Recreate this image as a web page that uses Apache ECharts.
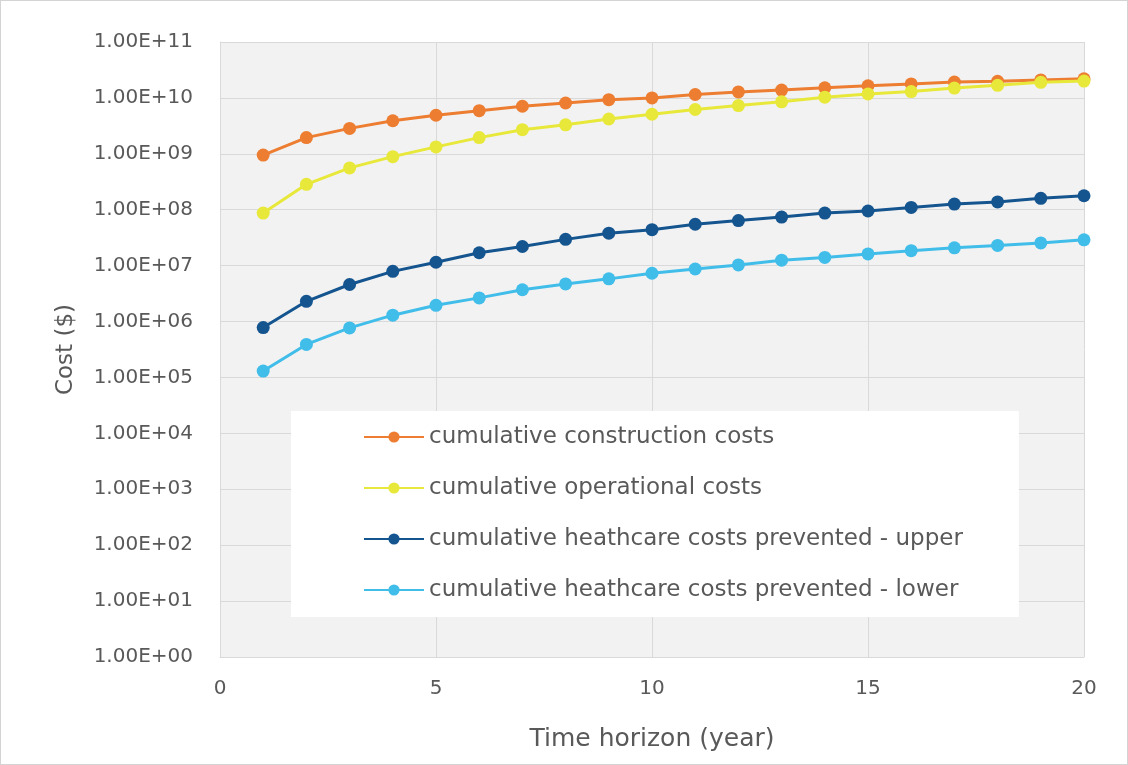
<!DOCTYPE html>
<html>
<head>
<meta charset="utf-8">
<script src="https://cdn.jsdelivr.net/npm/echarts@6/dist/echarts.min.js"></script>
<style>
html,body{margin:0;padding:0;background:#fff;}
#wrap{width:1128px;height:765px;box-sizing:border-box;border:1px solid #d4d4d4;position:relative;}
#chart{position:absolute;left:0;top:0;width:1126px;height:763px;}
</style>
</head>
<body>
<div id="wrap"><div id="chart"></div></div>
<script>
var years = [1,2,3,4,5,6,7,8,9,10,11,12,13,14,15,16,17,18,19,20];
var construction = [9.5e8,1.95e9,2.85e9,3.9e9,4.9e9,5.9e9,7.1e9,8.1e9,9.3e9,1.0e10,1.15e10,1.28e10,1.38e10,1.52e10,1.65e10,1.78e10,1.92e10,1.98e10,2.1e10,2.2e10];
var operational = [8.7e7,2.85e8,5.6e8,8.9e8,1.33e9,1.95e9,2.7e9,3.3e9,4.2e9,5.1e9,6.2e9,7.3e9,8.5e9,1.03e10,1.18e10,1.3e10,1.5e10,1.68e10,1.9e10,2.0e10];
var healthUpper = [7.8e5,2.3e6,4.6e6,7.9e6,1.15e7,1.7e7,2.2e7,2.95e7,3.8e7,4.4e7,5.5e7,6.4e7,7.4e7,8.7e7,9.5e7,1.1e8,1.26e8,1.38e8,1.6e8,1.78e8];
var healthLower = [1.3e5,3.9e5,7.7e5,1.3e6,1.95e6,2.65e6,3.7e6,4.7e6,5.8e6,7.3e6,8.7e6,1.03e7,1.25e7,1.4e7,1.62e7,1.85e7,2.08e7,2.3e7,2.55e7,2.9e7];
var seriesNames = ['cumulative construction costs','cumulative operational costs','cumulative heathcare costs prevented - upper','cumulative heathcare costs prevented - lower'];
var yTickLabels = ['1.00E+00','1.00E+01','1.00E+02','1.00E+03','1.00E+04','1.00E+05','1.00E+06','1.00E+07','1.00E+08','1.00E+09','1.00E+10','1.00E+11'];
var xTicks = [0,5,10,15,20];
var colors = ['#ED7D31','#E8E83A','#14548F','#41BDEA'];

function pairs(arr){ return arr.map(function(v,i){ return [years[i], v]; }); }
var dataSets = [construction, operational, healthUpper, healthLower];

var FONT = 'DejaVu Sans';
var chart = echarts.init(document.getElementById('chart'));
chart.setOption({
  animation: false,
  backgroundColor: '#ffffff',
  textStyle: { fontFamily: FONT },
  grid: { left: 219, right: 43, top: 41, bottom: 107, show: true, backgroundColor: '#F2F2F2', borderWidth: 0 },
  xAxis: {
    type: 'value', min: xTicks[0], max: xTicks[xTicks.length-1], interval: 5,
    name: 'Time horizon (year)', nameLocation: 'middle', nameGap: 70,
    nameTextStyle: { fontFamily: FONT, fontSize: 25, color: '#595959' },
    axisLine: { show: true, lineStyle: { color: '#D9D9D9', width: 1 } },
    axisTick: { show: false },
    axisLabel: { fontFamily: FONT, fontSize: 20, color: '#595959', margin: 22 },
    splitLine: { show: true, lineStyle: { color: '#D9D9D9', width: 1 } }
  },
  yAxis: {
    type: 'log', logBase: 10, min: 1, max: 1e11, interval: 1,
    name: 'Cost ($)', nameLocation: 'middle', nameGap: 142, nameRotate: 90,
    nameTextStyle: { fontFamily: FONT, fontSize: 23, color: '#595959' },
    axisLine: { show: true, lineStyle: { color: '#D9D9D9', width: 1 } },
    axisTick: { show: false },
    minorTick: { show: false },
    axisLabel: { fontFamily: FONT, fontSize: 20, color: '#595959', margin: 27, interval: 0,
      formatter: function(v){ var e = Math.round(Math.log10(v)); return yTickLabels[e] || ''; } },
    splitLine: { show: true, lineStyle: { color: '#D9D9D9', width: 1 } }
  },
  legend: {
    orient: 'vertical', left: 290, top: 410,
    backgroundColor: '#ffffff',
    padding: [13, 56, 14, 72],
    itemWidth: 60, itemHeight: 14, itemGap: 25,
    textStyle: { fontFamily: FONT, fontSize: 23, color: '#595959', lineHeight: 26 },
    data: seriesNames
  },
  series: dataSets.map(function(d, i){
    return {
      name: seriesNames[i], type: 'line', data: pairs(d),
      symbol: 'circle', symbolSize: 13,
      lineStyle: { color: colors[i], width: 3 },
      itemStyle: { color: colors[i] },
      z: 2 + i
    };
  })
});
</script>
</body>
</html>
